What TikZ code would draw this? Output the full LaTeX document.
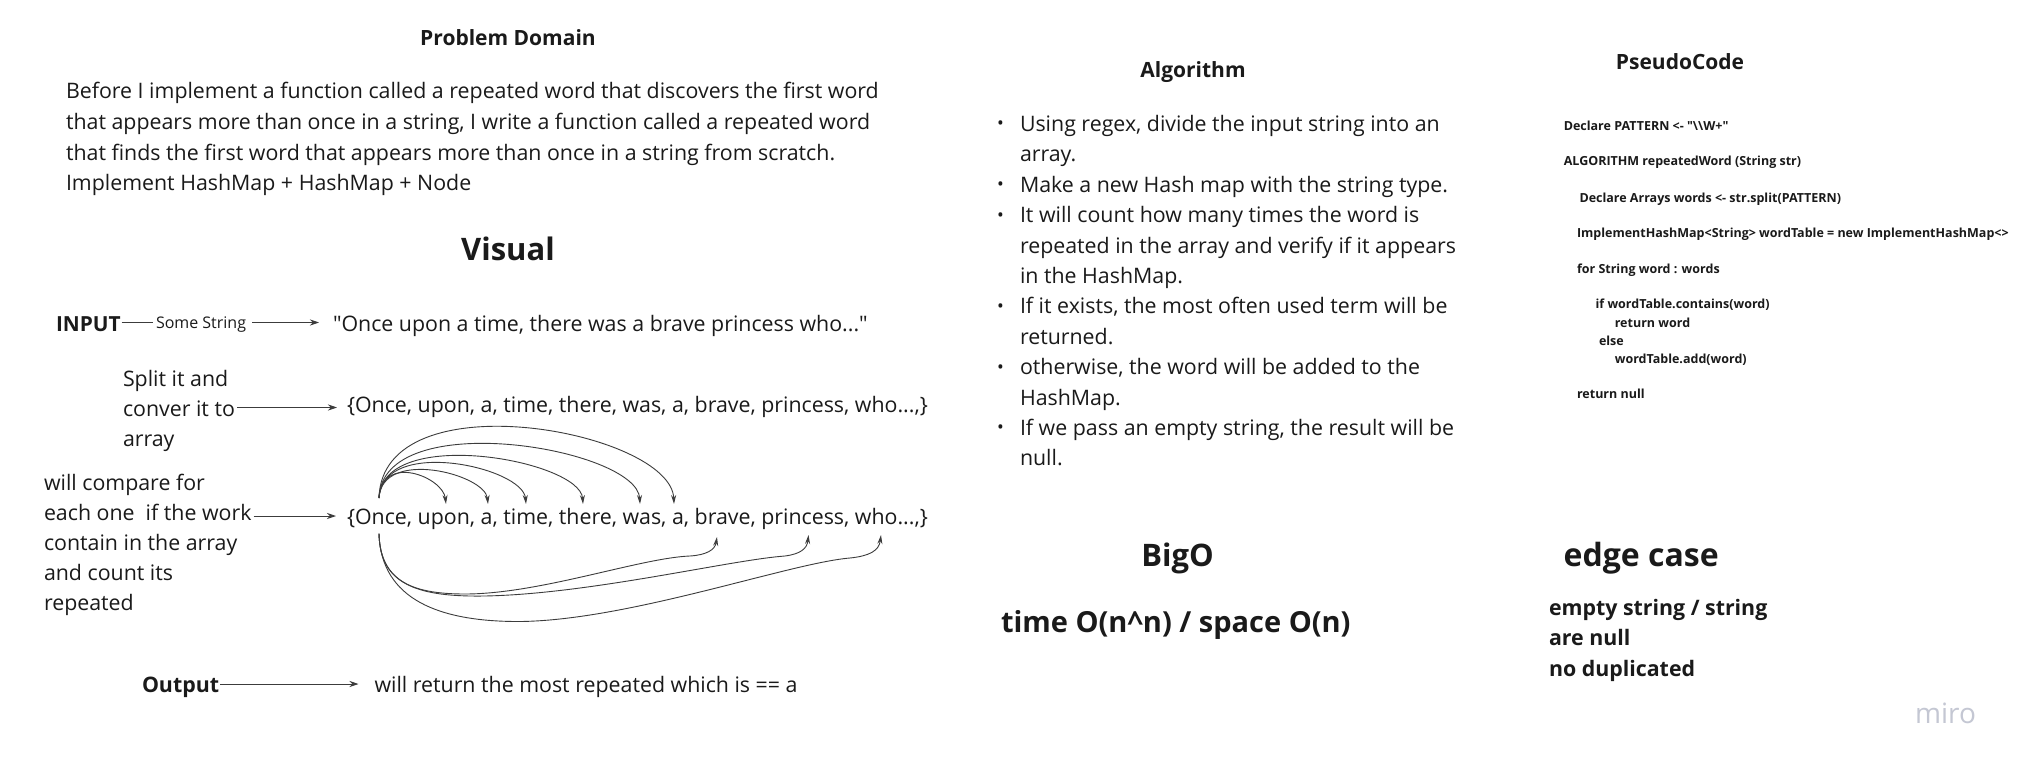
\documentclass[tikz,border=0pt]{standalone}
\usepackage{fontspec}
\setmainfont{Open Sans}[Ligatures=TeXOff]
\usetikzlibrary{arrows.meta}
\definecolor{ink}{HTML}{1A1A1A}
\definecolor{miroc}{HTML}{C4C7D3}
\begin{document}
\begin{tikzpicture}[x=1pt,y=-1pt,
  base/.style={inner sep=0pt,outer sep=0pt,text=ink},
  body/.style={base,anchor=west,font=\fontsize{21.35}{25}\selectfont,text height=21pt,text depth=4pt},
  bodyb/.style={body,font=\fontsize{21.35}{25}\selectfont\bfseries},
  smalltxt/.style={base,anchor=west,font=\fontsize{16}{19}\selectfont,text height=13pt,text depth=0.1pt},
  code/.style={base,anchor=west,font=\fontsize{12.5}{15}\selectfont\bfseries,text height=10pt,text depth=1.1pt},
  title/.style={base,anchor=center,font=\fontsize{21}{25}\selectfont\bfseries,text height=21pt,text depth=4pt},
  big/.style={base,anchor=center,font=\fontsize{31}{36}\selectfont\bfseries,text height=26pt,text depth=3.6pt},
  bigw/.style={big,anchor=west},
  ln/.style={draw=ink!85,line width=0.9pt},
  arr/.style={ln,-{Stealth[length=9pt,width=6pt]}},
  carr/.style={ln,-{Stealth[length=9pt,width=5pt]}},
  bul/.style={base,anchor=center,font=\fontsize{18}{18}\selectfont}
]
\useasboundingbox (0,0) rectangle (2026,770);
\fill[white] (0,0) rectangle (2026,770);

% ---------- Problem domain ----------
\node[title] (pdt) at (508,37.5) {Problem Domain};
\node[body] (pd1) at (66,90.4) {Before I implement a function called a repeated word that discovers the first word};
\node[body] (pd2) at (66,121.2) {that appears more than once in a string, I write a function called a repeated word};
\node[body] (pd3) at (66,151.6) {that finds the first word that appears more than once in a string from scratch.};
\node[body] (pd4) at (66,182) {Implement HashMap + HashMap + Node};

% ---------- Visual ----------
\node[big] (vis) at (508,249) {Visual};

\node[bodyb,font=\fontsize{20.8}{24}\selectfont\bfseries] (inp) at (56,322.5) {INPUT};
\node[smalltxt] (some) at (156,322.5) {Some String};
\node[body] (quote) at (333,322.5) {"Once upon a time, there was a brave princess who..."};
\draw[ln,shorten <=1pt,shorten >=3pt] (inp.east) -- (some.west);
\draw[arr,shorten <=6pt,shorten >=14pt] (some.east) -- (quote.west);

\node[body] (s1) at (123,378) {Split it and};
\node[body] (s2) at (123,407.5) {conver it to};
\node[body] (s3) at (123,437.5) {array};
\node[body] (ar1) at (347,404) {\{Once, upon, a, time, there, was, a, brave, princess, who...,\}};
\draw[arr,shorten <=2pt,shorten >=10pt] (s2.east) -- (s2.east -| ar1.west);

\node[body] (c1) at (44,481.7) {will compare for};
\node[body] (c2) at (44,511.7) {each one\ \ if the work};
\node[body] (c3) at (44,541.7) {contain in the array};
\node[body] (c4) at (44,571.7) {and count its};
\node[body] (c5) at (44,601.7) {repeated};
\node[body] (ar2) at (347,516) {\{Once, upon, a, time, there, was, a, brave, princess, who...,\}};
\draw[arr,shorten <=2pt,shorten >=11pt] (c2.east |- ar2.west) -- (ar2.west);

% arcs over / under the array
\coordinate (src) at (379,498);
\coordinate (src2) at (379,533.6);
\coordinate (t1) at (446,504);
\coordinate (t2) at (488,504);
\coordinate (t3) at (526,504);
\coordinate (t4) at (583,504);
\coordinate (t5) at (640,504);
\coordinate (t6) at (674,504);
\coordinate (u1) at (717,537);
\coordinate (u2) at (808.5,535);
\coordinate (u3) at (881,535);
\draw[carr] (src) .. controls (382,452.7) and (443,477) .. (t1);
\draw[carr] (src) .. controls (382,447.8) and (485,474) .. (t2);
\draw[carr] (src) .. controls (382,436.3) and (523,467) .. (t3);
\draw[carr] (src) .. controls (382,424.8) and (580,460) .. (t4);
\draw[carr] (src) .. controls (382,405.2) and (637,448) .. (t5);
\draw[carr] (src) .. controls (382,377.3) and (671,431) .. (t6);
\draw[carr] (src2) .. controls (380,580) and (410,594) .. (465,594)
  .. controls (540,594) and (640,558) .. (690,556)
  .. controls (706,555) and (715,550) .. (u1);
\draw[carr] (src2) .. controls (380,586) and (420,597) .. (485,596)
  .. controls (590,594) and (730,560) .. (785,556)
  .. controls (800,554) and (807,549) .. (u2);
\draw[carr] (src2) .. controls (381,600) and (440,622) .. (521,621.5)
  .. controls (630,620) and (790,563) .. (850,558)
  .. controls (869,556) and (879,551) .. (u3);

\node[bodyb] (out) at (142,684) {Output};
\node[body] (res) at (374.5,684) {will return the most repeated which is == a};
\draw[arr,shorten <=1pt,shorten >=16pt] (out.east) -- (res.west);

% ---------- Algorithm ----------
\node[title] (algt) at (1193,69.5) {Algorithm};
\node[bul] (b1) at (1000.5,125.5) {•};
\node[bul] (b2) at (1000.5,186.3) {•};
\node[bul] (b3) at (1000.5,216.7) {•};
\node[bul] (b4) at (1000.5,307.9) {•};
\node[bul] (b5) at (1000.5,368.7) {•};
\node[bul] (b6) at (1000.5,429.5) {•};
\node[body] (a1) at (1020,123) {Using regex, divide the input string into an};
\node[body] (a2) at (1020,153.4) {array.};
\node[body] (a3) at (1020,183.8) {Make a new Hash map with the string type.};
\node[body] (a4) at (1020,214.2) {It will count how many times the word is};
\node[body] (a5) at (1020,244.6) {repeated in the array and verify if it appears};
\node[body] (a6) at (1020,275) {in the HashMap.};
\node[body] (a7) at (1020,305.4) {If it exists, the most often used term will be};
\node[body] (a8) at (1020,335.8) {returned.};
\node[body] (a9) at (1020,366.2) {otherwise, the word will be added to the};
\node[body] (a10) at (1020,396.6) {HashMap.};
\node[body] (a11) at (1020,427) {If we pass an empty string, the result will be};
\node[body] (a12) at (1020,457.4) {null.};

% ---------- PseudoCode ----------
\node[title] (pct) at (1680,61) {PseudoCode};
\node[code] (k1) at (1563.8,126.3) {Declare PATTERN <- "\textbackslash\textbackslash W+"};
\node[code] (k2) at (1563.8,161.5) {ALGORITHM repeatedWord (String str)};
\node[code] (k3) at (1579.5,197.8) {Declare Arrays words <- str.split(PATTERN)};
\node[code] (k4) at (1577,233.4) {ImplementHashMap<String> wordTable = new ImplementHashMap<>};
\node[code] (k5) at (1577,269.3) {for String word : words};
\node[code] (k6) at (1595.6,304.5) {if wordTable.contains(word)};
\node[code] (k7) at (1614.8,322.6) {return word};
\node[code] (k8) at (1599,340.7) {else};
\node[code] (k9) at (1614.8,358.9) {wordTable.add(word)};
\node[code] (k10) at (1577,394) {return null};

% ---------- BigO / edge case ----------
\node[big] (bigo) at (1177.5,555) {BigO};
\node[bigw,font=\fontsize{29}{34}\selectfont\bfseries] (tc) at (1001,621.5) {time O(n\^{}n) / space O(n)};
\node[bigw,font=\fontsize{32}{36}\selectfont\bfseries] (edge) at (1563.7,555) {edge case};
\node[bodyb] (e1) at (1549,607.3) {empty string / string};
\node[bodyb] (e2) at (1549,637.3) {are null};
\node[bodyb] (e3) at (1549,667.7) {no duplicated};

\node[base,anchor=west,text=miroc,font=\fontsize{28}{30}\selectfont,text height=15pt,text depth=5pt] (miro) at (1915,718) {miro};
\end{tikzpicture}
\end{document}
